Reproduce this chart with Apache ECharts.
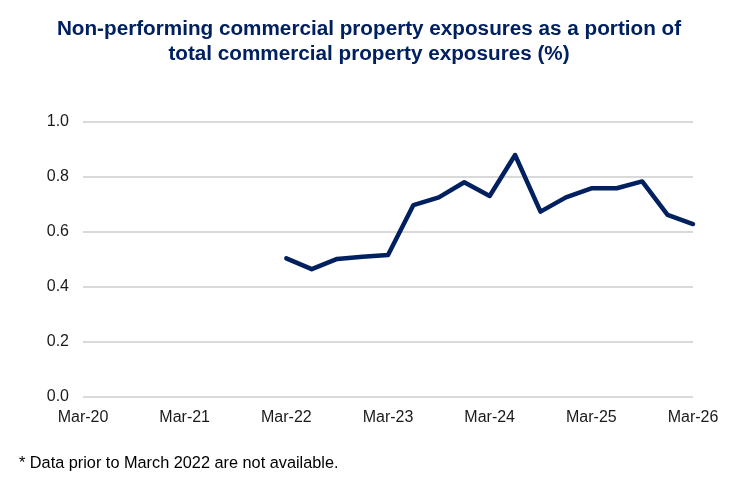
<!DOCTYPE html>
<html>
<head>
<meta charset="utf-8">
<script src="https://cdn.jsdelivr.net/npm/echarts@6/dist/echarts.min.js"></script>
<style>
  html, body { margin: 0; padding: 0; background: #fff; }
  #chart { width: 738px; height: 492px; }
</style>
</head>
<body>
<div id="chart"></div>
<script>
// quarterly categories Mar-20 .. Mar-26
const quarters = [
  "Mar-20","Jun-20","Sep-20","Dec-20",
  "Mar-21","Jun-21","Sep-21","Dec-21",
  "Mar-22","Jun-22","Sep-22","Dec-22",
  "Mar-23","Jun-23","Sep-23","Dec-23",
  "Mar-24","Jun-24","Sep-24","Dec-24",
  "Mar-25","Jun-25","Sep-25","Dec-25",
  "Mar-26"
];
// data prior to Mar-22 not available
const npShare = [
  null, null, null, null,
  null, null, null, null,
  0.504, 0.465, 0.502, 0.510,
  0.516, 0.698, 0.726, 0.781,
  0.731, 0.880, 0.674, 0.726,
  0.759, 0.759, 0.784, 0.662,
  0.629
];
const titleLines = [
  "Non-performing commercial property exposures as a portion of",
  "total commercial property exposures (%)"
];
const footnote = "* Data prior to March 2022 are not available.";

let myChart = echarts.init(document.getElementById("chart"));
let option = {
  animation: false,
  title: [
    {
      text: titleLines.join("\n"),
      left: "center",
      top: 12,
      textStyle: {
        fontFamily: "Liberation Sans",
        fontSize: 20.7,
        fontWeight: "bold",
        color: "#002060",
        lineHeight: 25
      }
    },
    {
      text: footnote,
      left: 14,
      top: 451,
      textStyle: {
        fontFamily: "Liberation Sans",
        fontSize: 16.3,
        fontWeight: "normal",
        color: "#000"
      }
    }
  ],
  grid: {
    left: 83,
    right: 45,
    top: 122,
    bottom: 95,
    containLabel: false
  },
  xAxis: {
    type: "category",
    data: quarters,
    boundaryGap: false,
    axisLine: { show: false },
    axisTick: { show: false },
    axisLabel: {
      interval: 3,
      margin: 13,
      fontFamily: "Liberation Sans",
      fontSize: 16,
      color: "#1a1a1a"
    }
  },
  yAxis: {
    type: "value",
    min: 0,
    max: 1,
    interval: 0.2,
    axisLine: { show: false },
    axisTick: { show: false },
    splitLine: { lineStyle: { color: "#d9d9d9", width: 2 } },
    axisLabel: {
      margin: 14,
      fontFamily: "Liberation Sans",
      fontSize: 16,
      color: "#1a1a1a",
      formatter: v => v.toFixed(1)
    }
  },
  series: [
    {
      name: "Non-performing share",
      type: "line",
      data: npShare,
      showSymbol: false,
      connectNulls: false,
      lineStyle: { color: "#002060", width: 4.5, join: "round", cap: "round" },
      itemStyle: { color: "#002060" }
    }
  ]
};
myChart.setOption(option);
</script>
</body>
</html>
